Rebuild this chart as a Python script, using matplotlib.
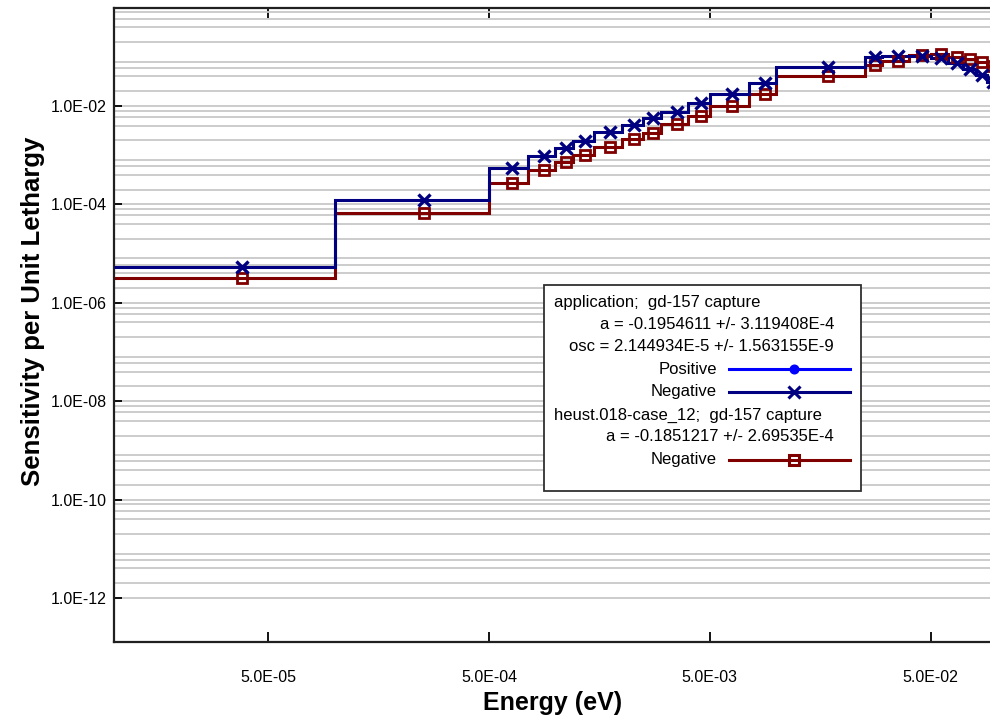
import numpy as np
import matplotlib
matplotlib.use('Agg')
import matplotlib.pyplot as plt
from matplotlib.lines import Line2D
from matplotlib.patches import Rectangle
from matplotlib.ticker import FixedLocator, FuncFormatter, NullLocator

# energy group boundaries (eV), lowest part of the 238 group structure
edges = [1e-5, 1e-4, 5e-4, 7.5e-4, 1e-3, 1.2e-3, 1.5e-3, 2e-3, 2.5e-3,
         3e-3, 4e-3, 5e-3, 7.5e-3, 1e-2, 2.53e-2, 3e-2, 4e-2, 5e-2,
         6e-2, 7e-2, 8e-2, 9e-2, 1e-1]

# sensitivity per unit lethargy
app_neg = [5.4e-6, 1.26e-4, 5.57e-4, 9.6e-4, 1.42e-3, 1.97e-3, 2.92e-3,
           4.11e-3, 5.62e-3, 7.67e-3, 1.17e-2, 1.73e-2, 2.9e-2, 6.12e-2,
           0.100, 0.105, 0.106, 0.095, 0.075, 0.057, 0.043, 0.031]
heu_neg = [3.2e-6, 6.67e-5, 2.67e-4, 4.99e-4, 7.36e-4, 1.01e-3, 1.44e-3,
           2.1e-3, 2.86e-3, 4.3e-3, 6.27e-3, 1.01e-2, 1.73e-2, 4.13e-2,
           0.068, 0.083, 0.109, 0.114, 0.100, 0.090, 0.079, 0.065]

x_ticks = [5e-5, 5e-4, 5e-3, 5e-2]
y_ticks = [1e-12, 1e-10, 1e-8, 1e-6, 1e-4, 1e-2]

legend_lines = [
    ('application;  gd-157 capture', 'left'),
    ('a = -0.1954611 +/- 3.119408E-4', 'right'),
    ('osc = 2.144934E-5 +/- 1.563155E-9', 'right'),
    ('Positive', 'key'),
    ('Negative', 'key'),
    ('heust.018-case_12;  gd-157 capture', 'left'),
    ('a = -0.1851217 +/- 2.69535E-4', 'right'),
    ('Negative', 'key'),
]

NAVY = '#000080'
DARKRED = '#800000'
BLUE = '#0000ff'
W, H = 990, 720


def sci_label(val, _):
    """format like 1.0E-02"""
    return f'{val:.1E}'


def mid_points(bounds, frac=0.58):
    """marker position inside every group, in log space"""
    lg = np.log10(bounds)
    return 10 ** (lg[:-1] + frac * (lg[1:] - lg[:-1]))


def fx(px):
    return px / W


def fy(py):
    return 1 - py / H


def draw_legend(fig):
    """hand drawn legend box, like the original tool output"""
    fig.add_artist(Rectangle((fx(544), fy(491)), fx(861) - fx(544),
                             fy(285) - fy(491), transform=fig.transFigure,
                             facecolor='white', edgecolor='#303030',
                             lw=1.3, zorder=5))
    rows = [302.7, 324.3, 346.7, 369.3, 391.7, 415, 436.7, 460]
    keys = [(BLUE, 'o', 5, BLUE), (NAVY, 'x', 8, NAVY),
            (DARKRED, 's', 7, 'none')]
    k = 0
    for (txt, kind), y in zip(legend_lines, rows):
        if kind == 'left':
            fig.text(fx(554), fy(y), txt, ha='left', va='center',
                     fontsize=12, zorder=6)
        elif kind == 'right':
            fig.text(fx(834), fy(y), txt, ha='right', va='center',
                     fontsize=12, zorder=6)
        else:
            fig.text(fx(717), fy(y), txt, ha='right', va='center',
                     fontsize=12, zorder=6)
            col, mk, ms, mfc = keys[k]
            k += 1
            fig.add_artist(Line2D([fx(729), fx(850)], [fy(y), fy(y)],
                                  color=col, lw=2.2, zorder=6,
                                  transform=fig.transFigure))
            fig.add_artist(Line2D([fx(794)], [fy(y)], color=col,
                                  marker=mk, ms=ms, mew=2.2, mfc=mfc,
                                  zorder=7, transform=fig.transFigure))


def plotting():
    plt.rcParams['font.family'] = ['Liberation Sans', 'DejaVu Sans']
    fig = plt.figure(figsize=(9.9, 7.2), dpi=100)
    ax = fig.add_axes([fx(114), 1 - 642.3 / H, (997 - 114) / W,
                       (642.3 - 7.7) / H])

    ax.set_xscale('log')
    ax.set_yscale('log')
    ax.set_xlim(1e-5, 1e-1)
    ax.set_ylim(10 ** -12.9, 1.0)

    mids = mid_points(edges)
    ax.stairs(app_neg, edges, baseline=None, color=NAVY, lw=2.2, zorder=3)
    ax.stairs(heu_neg, edges, baseline=None, color=DARKRED, lw=2.2,
              zorder=2)
    ax.plot(mids, app_neg, ls='none', marker='x', ms=8, mew=2.4,
            color=NAVY, zorder=4)
    ax.plot(mids, heu_neg, ls='none', marker='s', ms=7, mew=2.0,
            mfc='none', mec=DARKRED, zorder=3)

    # y grid: majors every 2 decades, minors at 2,4,6,8 of each decade
    minors = [m * 10.0 ** k for k in range(-12, 0) for m in (2, 4, 6, 8)]
    ax.yaxis.set_major_locator(FixedLocator(y_ticks))
    ax.yaxis.set_minor_locator(FixedLocator(minors))
    ax.yaxis.set_major_formatter(FuncFormatter(sci_label))
    ax.yaxis.set_minor_formatter(FuncFormatter(lambda v, _: ''))
    ax.grid(True, axis='y', which='both', color='#c8c8c8', lw=1.3,
            zorder=0)
    ax.set_axisbelow(True)

    ax.xaxis.set_major_locator(FixedLocator(x_ticks))
    ax.xaxis.set_minor_locator(NullLocator())
    ax.xaxis.set_major_formatter(FuncFormatter(sci_label))

    ax.tick_params(axis='y', which='major', direction='in', length=6,
                   width=1.3, labelsize=11.5, pad=5)
    ax.tick_params(axis='y', which='minor', length=0)
    ax.tick_params(axis='x', which='major', direction='in', length=7,
                   width=1.3, labelsize=11.5, pad=20, top=True)
    for sp in ax.spines.values():
        sp.set_linewidth(1.6)
        sp.set_color('#202020')

    ax.set_xlabel('Energy (eV)', fontsize=18, fontweight='bold')
    ax.set_ylabel('Sensitivity per Unit Lethargy', fontsize=18.5,
                  fontweight='bold')
    ax.xaxis.set_label_coords((553 - 114) / 883, -(703 - 642.3) / 634.6)
    ax.xaxis.label.set_va('center')
    ax.yaxis.set_label_coords((33 - 114) / 883, (642.3 - 311.7) / 634.6)
    ax.yaxis.label.set_va('center')

    draw_legend(fig)
    fig.savefig('out.png', dpi=100)


if __name__ == '__main__':
    plotting()
